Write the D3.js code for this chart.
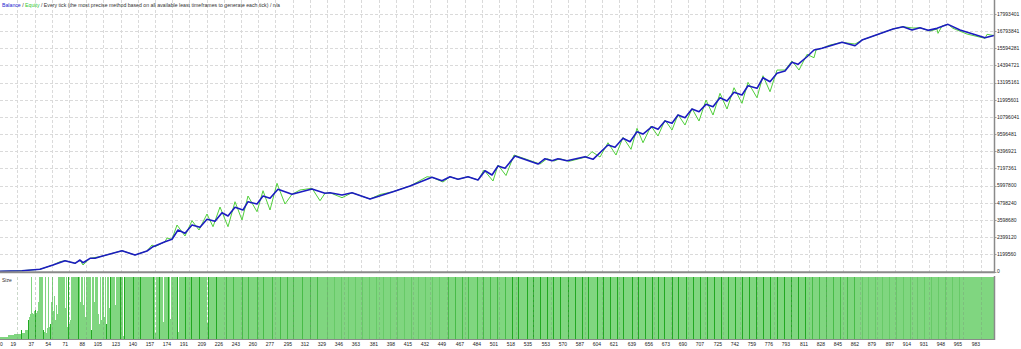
<!DOCTYPE html>
<html>
<head>
<meta charset="utf-8">
<script src="https://cdn.jsdelivr.net/npm/d3@7"></script>
<style>
  body { margin: 0; background: #fff; }
  svg { display: block; }
  text { font-family: "Liberation Sans", Arial, sans-serif; }
</style>
</head>
<body>
<svg></svg>
<script>
// balance line vertices: [trade #, money]
let balance = [
  [0,10000],[24,56000],[42,154000],[55,454000],[67,755000],[77,573000],[82,803000],[85,615000],
  [92,922000],[97,922000],[102,1034000],[124,1453000],[137,1153000],[149,1432000],[155,1733000],
  [167,2082000],[174,2250000],[180,2899000],[187,2669000],[194,3249000],[202,3088000],[209,3647000],
  [217,3507000],[224,4108000],[230,3877000],[237,4485000],[245,4297000],[250,4877000],[259,4716000],
  [265,5275000],[272,5114000],[280,5743000],[294,5394000],[314,5764000],[327,5463000],[332,5505000],
  [344,5345000],[354,5505000],[372,5065000],[395,5575000],[412,5973000],[434,6581000],[444,6344000],
  [452,6623000],[460,6441000],[470,6623000],[480,6393000],[487,7042000],[494,6742000],[500,7371000],
  [507,7210000],[517,8069000],[540,7510000],[547,7881000],[554,7741000],[560,7881000],[569,7741000],
  [587,8020000],[595,7839000],[610,8838000],[617,8677000],[625,9306000],[632,9068000],[639,9767000],
  [645,9606000],[654,10116000],[660,9935000],[667,10515000],[674,10354000],[680,10934000],
  [687,10745000],[694,11353000],[701,11164000],[708,11681000],[715,11514000],[722,12142000],
  [729,11912000],[736,12520000],[744,12331000],[750,12981000],[759,12799000],[765,13540000],
  [772,13260000],[779,13847000],[787,14008000],[794,14616000],[800,14476000],[809,15007000],
  [816,15475000],[824,15594000],[844,16013000],[857,15775000],[864,16174000],[895,16942000],
  [905,17103000],[914,16872000],[922,17033000],[930,16851000],[939,16991000],[950,17270000],
  [962,16872000],[987,16334000],[996,16488000]
];

// equity line vertices: [trade #, money]
let equity = [
  [0,10000],[24,56000],[42,154000],[55,454000],[62,685000],[67,755000],[77,573000],[82,803000],
  [85,454000],[92,922000],[102,1034000],[124,1453000],[137,1153000],[149,1432000],[154,1851000],
  [157,1733000],[167,2082000],[169,2340000],[174,2250000],[179,3249000],[187,2480000],[194,3549000],
  [201,2899000],[209,4017000],[215,3130000],[222,4506000],[230,3130000],[237,4877000],[244,3598000],
  [250,5275000],[259,4178000],[265,5645000],[272,4297000],[279,6162000],[287,4716000],[294,5394000],
  [302,5694000],[314,5813000],[322,4946000],[327,5463000],[332,5505000],[344,5156000],[354,5505000],
  [372,5065000],[382,5380000],[395,5575000],[412,5973000],[429,6623000],[434,6581000],[445,6253000],
  [452,6623000],[460,6441000],[470,6623000],[480,6393000],[486,7091000],[495,6323000],[500,7441000],
  [508,6707000],[516,8139000],[519,8069000],[542,7510000],[549,7881000],[556,7720000],[562,7881000],
  [571,7699000],[589,8020000],[594,8370000],[602,7999000],[610,8998000],[618,8139000],[625,9376000],
  [633,8537000],[639,10005000],[645,8998000],[653,10165000],[660,9467000],[667,10584000],
  [674,9886000],[680,10969000],[687,10235000],[694,11388000],[701,10515000],[708,11982000],
  [715,10934000],[722,12450000],[729,11353000],[736,12841000],[744,11751000],[750,13218000],
  [759,12142000],[765,13679000],[772,12562000],[779,14078000],[787,14078000],[794,14706000],
  [801,14078000],[809,15174000],[816,14937000],[818,15475000],[824,15594000],[832,15824000],
  [844,16013000],[857,15894000],[864,16174000],[895,16942000],[905,17103000],[915,17012000],
  [922,17033000],[932,16802000],[939,16942000],[940,16642000],[944,17152000],[950,17270000],
  [955,16991000],[969,16593000],[987,16292000],[989,16572000],[996,16488000]
];

let yTicks = [0,1199560,2399120,3598680,4798240,5997800,7197361,8396921,9596481,10796041,
  11995601,13195161,14394721,15594281,16793841,17993401];

let xTicks = [0,19,37,54,71,88,105,123,140,157,174,191,209,226,243,260,277,295,312,329,346,363,
  381,398,415,432,449,467,484,501,518,535,553,570,587,604,621,639,656,673,690,707,725,742,759,776,
  793,811,828,845,862,879,897,914,931,948,965,983];

// lot size, % of the pane height
let tradeCount = 996;
let sizeFull = 100;
let sizeEarly = [
  4,4,4,4,4,4,4,4,4,4, 6,6,6,6,6,6, 8,8,8,8,8,8,8, 14, 10,10,10, 15,15,15,
  30,35,40,100,42,40,45,47,42,45,60, 100,100,100,100,
  15,12,100,10,18,100,20,25,60,100,45,70,30,55,40,
  100,100,100,100,100,100,100, 50,100,20,100,25,30,
  100,100,100,100,100,100,100,100,100, 60,100,100,55,100,35,
  100,100,100,100,100, 15,100,100,60,100,100,100,
  40,25,100,30,100,100,35,100,25,100,100,50,
  100,100,100,100,100, 55,
  100,100,100,100,100,100,100,100,100,100,100,100,100,100,100,100,100,100,100,100,100,100
];
let sizeGaps = [[125,5],[157,10],[165,27],[172,32],[180,11],[209,26]];

// bars that show darker in the size pane
let darkStrong = [23,30,37,45,52,70,80,93,108,112,122,126,135,142,155,161,170,179,187,193,201,210,218,
  514,520,529,535,542,549,555,562,570,577,584,590,599,605,612,619,625,634,640,647,654,660,666,674,680,
  688,695,702,709,716,723,730,737,744,751,758,765,772,779,786,793,800,807];
let darkMedium = [228,235,244,250,259,265,274,282,289,295,304,312,319,450,457,464,470,479,485,492,499,507,
  814,821,828,835,842,849,856];
let darkFaint = [329,336,343,350,357,364,371,378,385,392,399,406,413,420,427,434,441,
  864,870,877,884,891,898,905,912,919,926,933,940,947,954,961];

let width = 1021;
let height = 349;
let plotRight = 994;
let mainBottom = 272;
let lowTop = 277;
let lowBottom = 339;

let svg = d3.select('svg').attr('width', width).attr('height', height);

let x = d3.scaleLinear().domain([0, tradeCount]).range([-2, plotRight]);
let y = d3.scaleLinear().domain([0, 17993401]).range([271.5, 14]);
let ySize = d3.scaleLinear().domain([0, sizeFull]).range([lowBottom, lowTop]);

let sizes = d3.range(tradeCount).map(i => i < sizeEarly.length ? sizeEarly[i] : sizeFull);
sizeGaps.forEach(g => { sizes[g[0]] = g[1]; });

svg.append('defs').append('clipPath').attr('id', 'mainClip')
   .append('rect').attr('x', 0).attr('y', 0).attr('width', plotRight).attr('height', mainBottom);

// grid
let grid = svg.append('g');
grid.selectAll('.hg').data(yTicks.slice(1)).join('line')
    .attr('x1', 0).attr('x2', plotRight)
    .attr('y1', d => Math.round(y(d)) + 0.5).attr('y2', d => Math.round(y(d)) + 0.5)
    .attr('stroke', '#dadada').attr('stroke-dasharray', '3,2');
grid.selectAll('.vg').data(xTicks.slice(1)).join('line')
    .attr('x1', d => x(d) + 0.5).attr('x2', d => x(d) + 0.5)
    .attr('y1', 0).attr('y2', mainBottom)
    .attr('stroke', '#dadada').attr('stroke-dasharray', '3,2');

// equity + balance
let line = d3.line().x(d => x(d[0])).y(d => y(d[1]));
let lines = svg.append('g').attr('clip-path', 'url(#mainClip)');
lines.append('path').datum(equity).attr('d', line)
     .attr('fill', 'none').attr('stroke', '#52cf3c').attr('stroke-width', 1);
lines.append('path').datum(balance).attr('d', line)
     .attr('fill', 'none').attr('stroke', '#1c1cc0').attr('stroke-width', 1.6)
     .attr('stroke-linejoin', 'round');

// axes lines
svg.append('line').attr('x1', 0).attr('x2', plotRight + 1).attr('y1', 272.3).attr('y2', 272.3)
   .attr('stroke', '#8a8a8a').attr('stroke-width', 2);
svg.append('line').attr('x1', plotRight + 0.5).attr('x2', plotRight + 0.5).attr('y1', 0).attr('y2', 273)
   .attr('stroke', '#8a8a8a').attr('stroke-width', 1.5);

// y labels
let yl = svg.append('g');
yl.selectAll('line').data(yTicks).join('line')
  .attr('x1', plotRight + 1).attr('x2', plotRight + 2.5)
  .attr('y1', d => Math.round(y(d)) + 0.5).attr('y2', d => Math.round(y(d)) + 0.5)
  .attr('stroke', '#9a9a9a');
yl.selectAll('text').data(yTicks).join('text')
  .attr('x', 997).attr('y', d => y(d) + 1.8)
  .attr('font-size', 5).attr('fill', '#222')
  .text(d => d);

// title
let title = svg.append('text').attr('x', 2).attr('y', 6.5).attr('font-size', 5.2).attr('fill', '#333');
title.append('tspan').attr('fill', '#1c1cd0').text('Balance');
title.append('tspan').text(' / ');
title.append('tspan').attr('fill', '#2fc82f').text('Equity');
title.append('tspan').text(' / Every tick (the most precise method based on all available least timeframes to generate each tick) / n/a');

// size pane
let low = svg.append('g').attr('shape-rendering', 'crispEdges');
low.selectAll('rect').data(sizes).join('rect')
   .attr('x', (d, i) => x(i)).attr('width', (d, i) => x(i + 1) - x(i))
   .attr('y', d => ySize(d)).attr('height', d => lowBottom - ySize(d))
   .attr('fill', '#80d680');

let drawDark = (list, color) => {
  low.append('g').selectAll('rect').data(list).join('rect')
     .attr('x', d => x(d)).attr('width', 1)
     .attr('y', d => ySize(sizes[d])).attr('height', d => lowBottom - ySize(sizes[d]))
     .attr('fill', color);
};
drawDark(darkFaint, '#68ca68');
drawDark(darkMedium, '#48bb48');
drawDark(darkStrong, '#22a822');

svg.append('g').selectAll('line').data(xTicks.slice(1)).join('line')
   .attr('x1', d => x(d) + 0.5).attr('x2', d => x(d) + 0.5)
   .attr('y1', lowTop).attr('y2', lowBottom)
   .attr('stroke', '#7a9a7a').attr('stroke-opacity', 0.4).attr('stroke-dasharray', '3,2');

svg.append('line').attr('x1', 0).attr('x2', plotRight + 1).attr('y1', lowBottom + 0.5).attr('y2', lowBottom + 0.5)
   .attr('stroke', '#8a8a8a');
svg.append('line').attr('x1', plotRight + 0.5).attr('x2', plotRight + 0.5).attr('y1', 276).attr('y2', lowBottom + 1)
   .attr('stroke', '#8a8a8a').attr('stroke-width', 1.5);

svg.append('text').attr('x', 2).attr('y', 281.5).attr('font-size', 5).attr('fill', '#333').text('Size');

// x labels
svg.append('g').selectAll('text').data(xTicks).join('text')
   .attr('x', d => d === 0 ? 0 : x(d) - 1)
   .attr('y', 346)
   .attr('text-anchor', d => d === 0 ? 'start' : 'end')
   .attr('font-size', 5).attr('fill', '#222')
   .text(d => d);
</script>
</body>
</html>
